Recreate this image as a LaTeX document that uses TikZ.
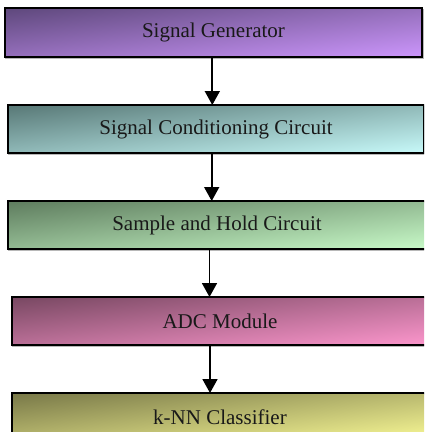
\documentclass[tikz,border=0pt]{standalone}
\usepackage{fontspec}
\setmainfont{Liberation Serif}
\usetikzlibrary{arrows.meta,calc}

% Diagonal box fill: dark at the top-left corner, light at the bottom-right.
% The path is fitted to the middle 50bp of the shading square (25bp..75bp).
% #1 name, #2-#4 dark rgb, #5-#7 (light - dark) rgb, all in 0..1
\newcommand\boxshade[7]{%
  \pgfdeclarefunctionalshading{#1}{\pgfpointorigin}{\pgfpoint{100bp}{100bp}}{}{%
    sub 50 add 100 div
    dup 0 lt {pop 0} if dup 1 gt {pop 1} if
    dup #5 mul #2 add exch
    dup #6 mul #3 add exch
    #7 mul #4 add
  }}
\boxshade{genshade} {0.369}{0.282}{0.486}{0.431}{0.306}{0.502}
\boxshade{condshade}{0.345}{0.471}{0.463}{0.439}{0.509}{0.517}
\boxshade{shshade}  {0.369}{0.486}{0.369}{0.415}{0.494}{0.415}
\boxshade{adcshade} {0.471}{0.282}{0.384}{0.517}{0.306}{0.416}
\boxshade{knnshade} {0.471}{0.471}{0.282}{0.509}{0.509}{0.306}

\tikzset{
  stage/.style={
    rectangle, draw=black, line width=1.7pt,
    inner sep=0pt, outer sep=0pt,
    minimum width=416pt, minimum height=48pt,
    shading=#1, shading angle=0,
    preaction={draw=black!28, line width=1.2pt,
      transform canvas={shift={(1pt,-1.2pt)}}},
    font=\fontsize{21}{25}\selectfont, text=black!90
  },
  flow/.style={line width=1.7pt, -{Triangle[length=14pt,width=15pt]}}
}

\begin{document}
\begin{tikzpicture}[x=1pt,y=1pt]
  \useasboundingbox (0,0) rectangle (424,-432);
  \clip (0,0) rectangle (424,-432);

  \node[stage=genshade, minimum width=417pt, minimum height=49pt]
    (gen) at (213.5,-32.5) {Signal Generator};
  \node[stage=condshade]
    (cond) at (216,-129) {Signal Conditioning Circuit};
  \node[stage=shshade, minimum width=418pt]
    (sh) at (217,-225) {Sample and Hold Circuit};
  \node[stage=adcshade]
    (adc) at (220,-321) {ADC Module};
  \node[stage=knnshade]
    (knn) at (220,-417) {k-NN Classifier};

  \draw[flow] ($(gen.south)+(-1.2,0)$)  -- ($(cond.north)+(-3.7,0)$);
  \draw[flow] ($(cond.south)+(-4.3,0)$) -- ($(sh.north)+(-5.3,0)$);
  \draw[flow] ($(sh.south)+(-7.5,0)$)   -- ($(adc.north)+(-10.5,0)$);
  \draw[flow] ($(adc.south)+(-10,0)$)   -- ($(knn.north)+(-10,0)$);
\end{tikzpicture}
\end{document}
